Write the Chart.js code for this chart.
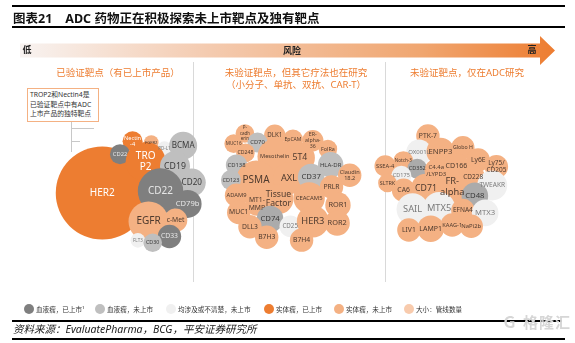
<!DOCTYPE html>
<html>
<head>
<meta charset="utf-8">
<script src="https://cdn.jsdelivr.net/npm/chart.js@4.4.1/dist/chart.umd.min.js"></script>
<style>
  body { margin: 0; background: #fff; font-family: "Noto Sans", "Noto Sans CJK SC", sans-serif; }
  #wrap { position: relative; width: 575px; height: 343px; overflow: hidden; }
  #c { position: absolute; left: 0; top: 0; }
  .abs { position: absolute; white-space: nowrap; }
  .hline { position: absolute; height: 1.5px; background: #000; }
  #title { left: 13px; top: 8px; font-size: 12.5px; font-weight: bold; color: #111; }
  #arrow { position: absolute; left: 20px; top: 36px; width: 535px; height: 29px;
    background: linear-gradient(to right, #f8f3f1 0%, #f4cbb0 35%, #f0a670 75%, #ed7d31 100%);
    clip-path: polygon(0 7.5px, 520px 7.5px, 520px 0, 535px 14.5px, 520px 29px, 520px 21.5px, 0 21.5px); }
  .risk { font-size: 9px; font-weight: bold; color: #222; transform: translate(-50%, -50%); }
  .ptitle { font-size: 9.5px; color: #ed7d31; transform: translateX(-50%); text-align: center; line-height: 12px; }
  #note { left: 27px; top: 88px; width: 68px; height: 31px; border: 1px solid #f4b183; background: #fff;
    font-size: 6.8px; line-height: 9.6px; color: #333; padding: 1px 0 0 2px; }
  .leg { font-size: 6.6px; color: #333; top: 304px; display: flex; align-items: center; }
  .leg i { display: inline-block; width: 10px; height: 10px; border-radius: 50%; margin-right: 2px; }
  #src { left: 13px; top: 321px; font-size: 10.5px; font-style: italic; color: #222; }
  #wm { left: 502px; top: 311px; font-size: 15px; font-weight: bold; color: #d6d6d6; letter-spacing: 1px; }
</style>
</head>
<body>
<div id="wrap">
  <canvas id="c" width="575" height="343"></canvas>
  <div class="hline" style="left:12px; top:5px; width:553px;"></div>
  <div id="title" class="abs">图表21&nbsp;&nbsp;&nbsp;&nbsp;ADC 药物正在积极探索未上市靶点及独有靶点</div>
  <div class="hline" style="left:12px; top:26px; width:553px;"></div>
  <div id="arrow"></div>
  <div class="abs risk" style="left:27px; top:49px;">低</div>
  <div class="abs risk" style="left:292px; top:50px;">风险</div>
  <div class="abs risk" style="left:532px; top:49px;">高</div>
  <div class="abs ptitle" style="left:118px; top:67px;">已验证靶点（有已上市产品）</div>
  <div class="abs ptitle" style="left:296px; top:67px;">未验证靶点，但其它疗法也在研究<br>（小分子、单抗、双抗、CAR-T）</div>
  <div class="abs ptitle" style="left:467px; top:67px;">未验证靶点，仅在ADC研究</div>
  <div id="note" class="abs">TROP2和Nectin4是<br>已验证靶点中有ADC<br>上市产品的独特靶点</div>
  <div id="legend"></div>
  <div class="hline" style="left:12px; top:320px; width:550px;"></div>
  <div id="src" class="abs">资料来源：EvaluatePharma，BCG，平安证券研究所</div>
  <div class="hline" style="left:12px; top:338px; width:553px;"></div>
  <div id="wm" class="abs">Ｇ 格隆汇</div>
</div>
<script>
// 类别: a=血液瘤已上市, b=血液瘤未上市, b2=血液瘤未上市(深), c=均涉及或不清楚, d=实体瘤已上市, e=实体瘤未上市
const legendNames = ['血液瘤，已上市¹', '血液瘤，未上市', '均涉及或不清楚，未上市', '实体瘤，已上市', '实体瘤，未上市', '大小：管线数量'];
const legendX = [24, 95, 166, 264, 334, 404];

// 面板1: 已验证靶点
const p1Names = ['HER2', 'Nectin\n-4', 'FGFR2', 'PD-L1', 'BCMA', 'CD22', 'TRO\nP2', 'CD19', 'CD20', 'CD22', 'CD79b', 'EGFR', 'c-Met', 'CD33', 'FLT3', 'CD30'];
const p1X = [66.5, 102.7, 125, 140.7, 163, 87.7, 118.3, 153.3, 173.3, 136, 168.3, 121.7, 154, 146.7, 109, 126.7];
const p1Y = [201, 130, 131.7, 140, 136, 147.7, 158.3, 164.3, 186.7, 198.3, 216, 240, 238.3, 260.7, 266, 269.3];
const p1R = [46.5, 10, 7.3, 7.3, 14, 10, 20, 15, 14, 22.7, 14, 20, 11.7, 11.7, 7.3, 9.3];
const p1Type = ['d', 'd', 'e', 'c', 'b', 'a', 'd', 'b', 'b', 'a', 'a', 'e', 'e', 'a', 'c', 'b'];

// 面板2: 未验证靶点，其它疗法也在研究
const p2Names = ['P-\ncadh\nerin', 'DLK1', 'EpCAM', 'ER-\nalpha-\n36', 'MUC16', 'CD70', 'FolRa', 'CD248', 'Mesothelin', '5T4', 'HLA-DR', 'CD138', 'PSMA', 'AXL', 'CD37', 'Claudin\n18.2', 'CD123', 'PRLR', 'ADAM9', 'MT1-\nMMP', 'Tissue\nFactor', 'CEACAM5', 'ROR1', 'MUC1', 'CD74', 'CD25', 'HER3', 'ROR2', 'DLL3', 'B7H3', 'B7H4'];
const p2X = [236.7, 272.3, 294, 317.7, 223.3, 251.7, 335.7, 237.3, 272.3, 302.3, 339, 226.7, 250, 289.3, 315.7, 361.7, 220, 340, 226.7, 251, 276.7, 313.3, 347.7, 229.3, 266.7, 290.7, 317.7, 346.7, 242.7, 262.7, 304.3];
const p2Y = [119.3, 121.7, 127.7, 129.3, 133.3, 131.7, 140.7, 146, 151, 152.7, 162.3, 162.7, 184, 180.7, 179, 176.7, 183.3, 192.7, 204, 216, 209.3, 207.7, 217.3, 227.7, 236.7, 246.7, 240, 242.3, 247.3, 261.7, 265.7];
const p2R = [9.3, 10.7, 10, 10.7, 9.3, 10, 9.3, 9.3, 17.3, 15, 12.7, 10.7, 20, 16, 13.3, 11.7, 10, 11.7, 11.7, 11.7, 15, 15.7, 12.7, 11.7, 13.3, 10.7, 16, 12.7, 11.7, 11.7, 11.7];
const p2Type = ['e', 'e', 'e', 'e', 'e', 'b', 'e', 'e', 'e', 'e', 'b', 'b', 'e', 'e', 'b', 'e', 'b', 'e', 'e', 'e', 'e', 'e', 'e', 'e', 'b2', 'c', 'e', 'e', 'e', 'e', 'e'];

// 面板3: 未验证靶点，仅在ADC研究
const p3Names = ['PTK-7', 'OX001L', 'ENPP3', 'Globo H', 'Ly6E', 'SSEA-4', 'Notch-3', 'CD352', 'C4.4a\n/LYPD3', 'CD166', 'Ly75/\nCD205', 'CD175', 'CD228', 'SLTRK', 'TWEAKR', 'CA6', 'CD71', 'FR-\nalpha', 'CD48', 'SAIL', 'MTX5', 'EFNA4', 'MTX3', 'LIV1', 'LAMP1', 'KAAG-1', 'NaPi2b'];
const p3X = [455, 444.3, 470, 496.7, 515, 404, 425.7, 442.3, 465, 489, 536.7, 423.3, 509, 406.7, 531.7, 426, 452.7, 484, 511, 436.7, 468.3, 496.7, 523.3, 432.3, 458.3, 484, 506.7];
const p3Y = [122.7, 145, 144.3, 139, 155.7, 164, 157.3, 167.7, 170, 164, 165, 177.3, 179.3, 187.3, 190.7, 197.3, 195, 192.7, 205, 223.3, 221.7, 225, 228.3, 251.7, 250, 245, 246.7];
const p3R = [11.7, 12.7, 14, 11.7, 11.7, 10.7, 10, 10, 11.7, 12.7, 11.7, 10, 11.7, 9.3, 15, 11.7, 15, 16, 13.3, 16, 16, 11.7, 13.3, 11.7, 13.3, 11.7, 11.7];
const p3Type = ['e', 'c', 'e', 'e', 'e', 'e', 'e', 'b2', 'e', 'e', 'e', 'c', 'e', 'e', 'c', 'e', 'e', 'e', 'b2', 'c', 'c', 'e', 'c', 'e', 'e', 'e', 'e'];

const fill = { a: '#7f7f7f', b: '#bfbfbf', b2: '#ababab', c: '#f0f0f0', d: '#ed7d31', e: '#f4b183' };
const ink = { a: '#e6e6e6', b: '#3a3a3a', b2: '#3a3a3a', c: '#7a7a7a', d: '#ffffff', e: '#4e3a2e' };
const legendFill = ['#7f7f7f', '#bfbfbf', '#f0f0f0', '#ed7d31', '#f4b183', '#f8cbad'];

// 图例
const legendBox = document.getElementById('legend');
legendNames.forEach((n, i) => {
    const d = document.createElement('div');
    d.className = 'abs leg';
    d.style.left = legendX[i] + 'px';
    d.innerHTML = `<i style="background:${legendFill[i]}"></i>${n}`;
    legendBox.appendChild(d);
});

function makeSet(names, xs, ys, rs, types) {
    return {
        data: xs.map((x, i) => ({ x: x, y: ys[i], r: rs[i] })),
        names: names,
        types: types,
        backgroundColor: types.map(t => fill[t]),
        borderWidth: 0,
        hoverRadius: 0
    };
}

// 线和分隔线画在气泡下面
const backLines = {
    id: 'backLines',
    beforeDatasetsDraw(chart) {
        const ctx = chart.ctx;
        ctx.save();
        ctx.strokeStyle = '#d9d9d9';
        ctx.lineWidth = 1;
        [193, 385].forEach(x => {
            ctx.beginPath(); ctx.moveTo(x + 0.5, 62); ctx.lineTo(x + 0.5, 282); ctx.stroke();
        });
        ctx.strokeStyle = '#c8c8c8';
        ctx.beginPath();
        ctx.moveTo(71.5, 120); ctx.lineTo(71.5, 152);
        ctx.moveTo(71, 128.5); ctx.lineTo(94, 128.5);
        ctx.moveTo(71, 141.5); ctx.lineTo(80, 141.5);
        ctx.stroke();
        ctx.restore();
    }
};

// 气泡里的文字
const bubbleText = {
    id: 'bubbleText',
    afterDatasetsDraw(chart) {
        const ctx = chart.ctx;
        ctx.save();
        ctx.textAlign = 'center';
        ctx.textBaseline = 'middle';
        chart.data.datasets.forEach((ds, di) => {
            chart.getDatasetMeta(di).data.forEach((el, i) => {
                const lines = ds.names[i].split('\n');
                const r = ds.data[i].r;
                let size = Math.min(10, Math.max(4.5, r * 0.58));
                ctx.font = `${size}px "Noto Sans", sans-serif`;
                const widest = Math.max(...lines.map(l => ctx.measureText(l).width));
                const room = r * 1.7;
                if (widest > room) size = Math.max(3.8, size * room / widest);
                const lh = size * 1.15;
                if (lines.length * lh > r * 1.7) size = Math.max(3.8, size * r * 1.7 / (lines.length * lh));
                ctx.font = `${size}px "Noto Sans", sans-serif`;
                ctx.fillStyle = ink[ds.types[i]];
                const h = size * 1.15;
                lines.forEach((l, k) => {
                    ctx.fillText(l, el.x, el.y + (k - (lines.length - 1) / 2) * h);
                });
            });
        });
        ctx.restore();
    }
};

new Chart(document.getElementById('c'), {
    type: 'bubble',
    data: {
        datasets: [
            makeSet(p1Names, p1X, p1Y, p1R, p1Type),
            makeSet(p2Names, p2X, p2Y, p2R, p2Type),
            makeSet(p3Names, p3X, p3Y, p3R, p3Type)
        ]
    },
    options: {
        responsive: false,
        animation: false,
        events: [],
        layout: { padding: 0 },
        scales: {
            x: { type: 'linear', min: 0, max: 575, display: false },
            y: { type: 'linear', min: 0, max: 343, reverse: true, display: false }
        },
        plugins: {
            legend: { display: false },
            tooltip: { enabled: false }
        }
    },
    plugins: [backLines, bubbleText]
});
</script>
</body>
</html>
